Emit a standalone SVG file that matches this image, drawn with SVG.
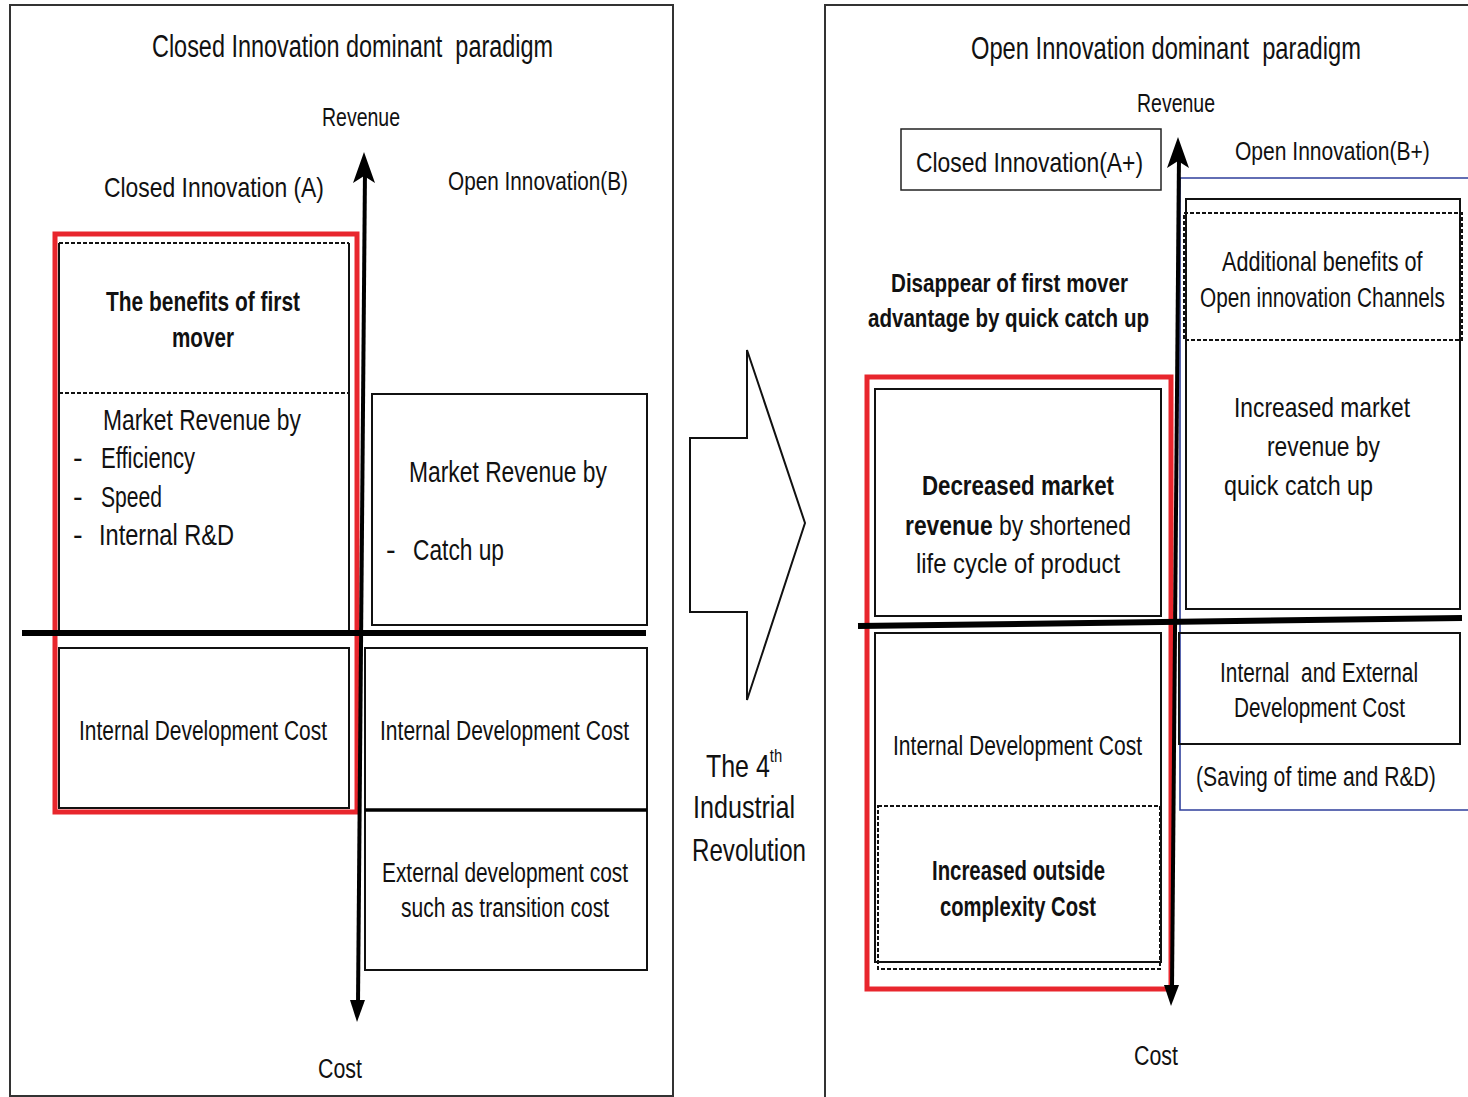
<svg xmlns="http://www.w3.org/2000/svg" width="1468" height="1097" viewBox="0 0 1468 1097">
  <style>
    text { font-family: "Liberation Sans", Arial, sans-serif; fill: #111; white-space: pre; }
    .b { font-weight: bold; }
    .s25 { font-size: 25px; } .s26 { font-size: 26px; } .s27 { font-size: 27px; }
    .s28 { font-size: 28px; } .s29 { font-size: 29px; } .s31 { font-size: 31px; } .s32 { font-size: 32px; }
    .frame { fill: none; stroke: #333; stroke-width: 2; }
    .box { fill: none; stroke: #111; stroke-width: 2; }
    .thin { fill: none; stroke: #222; stroke-width: 1.5; }
    .dash { fill: none; stroke: #111; stroke-width: 2; stroke-dasharray: 4 2; }
    .red { fill: none; stroke: #e8262d; stroke-width: 5; }
    .blue { fill: none; stroke: #2f3f9c; stroke-width: 1.6; }
    .vaxis { stroke: #000; stroke-width: 4; fill: none; }
    .haxis { stroke: #000; stroke-width: 6; fill: none; }
    .head { fill: #000; stroke: none; }
  </style>

  <rect width="1468" height="1097" fill="#fff"/>

  <!-- left panel: closed innovation paradigm -->
  <g id="closed-paradigm">
    <rect class="frame" x="10" y="5" width="663" height="1091"/>
    <text class="s31" x="152" y="57" textLength="401" lengthAdjust="spacingAndGlyphs" xml:space="preserve">Closed Innovation dominant  paradigm</text>
    <text class="s25" x="322" y="126" textLength="78" lengthAdjust="spacingAndGlyphs">Revenue</text>
    <text class="s28" x="104" y="197" textLength="220" lengthAdjust="spacingAndGlyphs">Closed Innovation (A)</text>
    <text class="s26" x="448" y="190" textLength="180" lengthAdjust="spacingAndGlyphs">Open Innovation(B)</text>
    <text class="s27" x="318" y="1078" textLength="44" lengthAdjust="spacingAndGlyphs">Cost</text>
  </g>

  <g id="closed-revenue-a">
    <line class="box" x1="59" y1="243" x2="59" y2="633"/>
    <line class="box" x1="349" y1="243" x2="349" y2="633"/>
    <line class="dash" x1="59" y1="243" x2="349" y2="243"/>
    <line class="dash" x1="59" y1="393" x2="349" y2="393"/>
    <text class="s27 b" x="106" y="311" textLength="194" lengthAdjust="spacingAndGlyphs">The benefits of first</text>
    <text class="s27 b" x="172" y="347" textLength="62" lengthAdjust="spacingAndGlyphs">mover</text>
    <text class="s29" x="103" y="430" textLength="198" lengthAdjust="spacingAndGlyphs">Market Revenue by</text>
    <text class="s29" x="73" y="468">-</text>
    <text class="s29" x="101" y="468" textLength="94" lengthAdjust="spacingAndGlyphs">Efficiency</text>
    <text class="s29" x="73" y="507">-</text>
    <text class="s29" x="101" y="507" textLength="61" lengthAdjust="spacingAndGlyphs">Speed</text>
    <text class="s29" x="73" y="545">-</text>
    <text class="s29" x="99" y="545" textLength="135" lengthAdjust="spacingAndGlyphs">Internal R&amp;D</text>
  </g>

  <g id="closed-revenue-b">
    <rect class="box" x="372" y="394" width="275" height="231"/>
    <text class="s29" x="409" y="482" textLength="198" lengthAdjust="spacingAndGlyphs">Market Revenue by</text>
    <text class="s29" x="386" y="560">-</text>
    <text class="s29" x="413" y="560" textLength="91" lengthAdjust="spacingAndGlyphs">Catch up</text>
  </g>

  <g id="closed-cost-a">
    <rect class="box" x="59" y="648" width="290" height="160"/>
    <text class="s27" x="79" y="740" textLength="248" lengthAdjust="spacingAndGlyphs">Internal Development Cost</text>
  </g>

  <g id="closed-cost-b">
    <rect class="box" x="365" y="648" width="282" height="162"/>
    <text class="s27" x="380" y="740" textLength="249" lengthAdjust="spacingAndGlyphs">Internal Development Cost</text>
  </g>

  <g id="closed-cost-external">
    <rect class="box" x="365" y="810" width="282" height="160"/>
    <line x1="365" y1="810" x2="647" y2="810" stroke="#000" stroke-width="3.5"/>
    <text class="s27" x="382" y="882" textLength="246" lengthAdjust="spacingAndGlyphs">External development cost</text>
    <text class="s27" x="401" y="917" textLength="208" lengthAdjust="spacingAndGlyphs">such as transition cost</text>
  </g>

  <g id="closed-highlight">
    <rect class="red" x="55" y="234" width="302" height="578"/>
  </g>

  <!-- transition arrow between the two paradigms -->
  <g id="transition">
    <polygon points="690,438 747,438 747,350 805,523 747,700 747,612 690,612" fill="#fff" stroke="#111" stroke-width="2"/>
    <text class="s32" transform="translate(706,777) scale(0.78,1)">The 4<tspan font-size="19" dy="-15">th</tspan></text>
    <text class="s32" x="693" y="818" textLength="102" lengthAdjust="spacingAndGlyphs">Industrial</text>
    <text class="s32" x="692" y="861" textLength="114" lengthAdjust="spacingAndGlyphs">Revolution</text>
  </g>

  <!-- right panel: open innovation paradigm -->
  <g id="open-paradigm">
    <path class="frame" d="M825,1097 V5 H1468"/>
    <text class="s31" transform="translate(971,59) scale(0.765,1)" xml:space="preserve">Open Innovation dominant  paradigm</text>
    <text class="s25" x="1137" y="112" textLength="78" lengthAdjust="spacingAndGlyphs">Revenue</text>
    <text class="s26" transform="translate(1235,160) scale(0.81,1)">Open Innovation(B+)</text>
    <text class="s26 b" x="891" y="292" textLength="237" lengthAdjust="spacingAndGlyphs">Disappear of first mover</text>
    <text class="s26 b" x="868" y="327" textLength="281" lengthAdjust="spacingAndGlyphs">advantage by quick catch up</text>
    <text class="s27" x="1134" y="1065" textLength="44" lengthAdjust="spacingAndGlyphs">Cost</text>
  </g>

  <g id="open-label-a">
    <rect class="thin" x="901" y="129" width="260" height="61"/>
    <text class="s28" x="916" y="172" textLength="227" lengthAdjust="spacingAndGlyphs">Closed Innovation(A+)</text>
  </g>

  <g id="open-scope-b">
    <path class="blue" d="M1468,178 H1180 V810 H1468"/>
  </g>

  <g id="open-revenue-b">
    <rect class="box" x="1186" y="199" width="274" height="410"/>
    <rect class="dash" x="1184" y="213" width="278" height="127"/>
    <text class="s27" transform="translate(1222,271) scale(0.8,1)">Additional benefits of</text>
    <text class="s27" transform="translate(1200,307) scale(0.77,1)">Open innovation Channels</text>
    <text class="s28" x="1234" y="417" textLength="176" lengthAdjust="spacingAndGlyphs">Increased market</text>
    <text class="s28" x="1267" y="456" textLength="113" lengthAdjust="spacingAndGlyphs">revenue by</text>
    <text class="s28" x="1224" y="495" textLength="149" lengthAdjust="spacingAndGlyphs">quick catch up</text>
  </g>

  <g id="open-revenue-a">
    <rect class="box" x="875" y="389" width="286" height="227"/>
    <text class="s28 b" x="922" y="495" textLength="192" lengthAdjust="spacingAndGlyphs">Decreased market</text>
    <text class="s28" transform="translate(905,535) scale(0.816,1)"><tspan class="b">revenue</tspan> by shortened</text>
    <text class="s28" x="916" y="573" textLength="204" lengthAdjust="spacingAndGlyphs">life cycle of product</text>
  </g>

  <g id="open-cost-a">
    <rect class="box" x="875" y="633" width="286" height="329"/>
    <rect class="dash" x="878" y="806" width="282" height="163"/>
    <text class="s27" x="893" y="755" textLength="249" lengthAdjust="spacingAndGlyphs">Internal Development Cost</text>
    <text class="s27 b" x="932" y="880" textLength="173" lengthAdjust="spacingAndGlyphs">Increased outside</text>
    <text class="s27 b" x="940" y="916" textLength="156" lengthAdjust="spacingAndGlyphs">complexity Cost</text>
  </g>

  <g id="open-cost-b">
    <rect class="box" x="1179" y="633" width="281" height="111"/>
    <text class="s27" transform="translate(1220,682) scale(0.772,1)" xml:space="preserve">Internal  and External</text>
    <text class="s27" x="1234" y="717" textLength="171" lengthAdjust="spacingAndGlyphs">Development Cost</text>
    <text class="s27" transform="translate(1196,786) scale(0.784,1)">(Saving of time and R&amp;D)</text>
  </g>

  <g id="open-highlight">
    <rect class="red" x="867" y="377" width="304" height="612"/>
  </g>

  <!-- revenue / cost axes -->
  <g id="connectors">
    <line class="vaxis" x1="365" y1="170" x2="358" y2="1004"/>
    <polygon class="head" points="364,152 375,183 364,176 353,183"/>
    <polygon class="head" points="357,1022 350,1000 365,1000"/>
    <line class="haxis" x1="22" y1="633" x2="646" y2="633"/>

    <line class="vaxis" x1="1179" y1="155" x2="1172" y2="988"/>
    <polygon class="head" points="1178,137 1189,168 1178,161 1167,168"/>
    <polygon class="head" points="1171,1006 1164,985 1179,985"/>
    <line class="haxis" x1="858" y1="626" x2="1462" y2="618"/>
  </g>
</svg>
